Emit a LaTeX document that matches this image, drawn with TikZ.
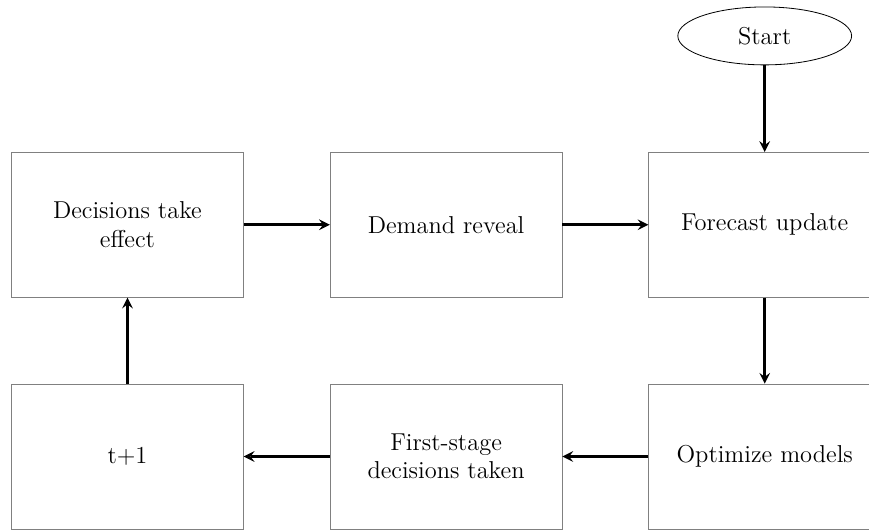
\documentclass[tikz,border=0pt]{standalone}
\usetikzlibrary{shapes.geometric}
\begin{document}
\begin{tikzpicture}[
  stepbox/.style={draw=black!50, rectangle, minimum width=4cm, minimum height=2.5cm,
                  align=center, inner sep=0pt, font=\large},
  startnode/.style={draw, ellipse, minimum width=3cm, minimum height=1cm, font=\large},
  flow/.style={->, >=stealth, line width=1.3pt}
]
\clip (0,0) rectangle (15.0,-9.16);
\node[startnode] (start) at (13.2,-0.62) {Start};
\node[stepbox] (effect) at (2.2,-3.88) {Decisions take\\effect};
\node[stepbox] (demand) at (7.7,-3.88) {Demand reveal};
\node[stepbox] (forecast) at (13.2,-3.88) {Forecast update};
\node[stepbox] (next) at (2.2,-7.88) {t+1};
\node[stepbox] (first) at (7.7,-7.88) {First-stage\\decisions taken};
\node[stepbox] (optimize) at (13.2,-7.88) {Optimize models};
\draw[flow] (start) -- (forecast);
\draw[flow] (forecast) -- (optimize);
\draw[flow] (optimize) -- (first);
\draw[flow] (first) -- (next);
\draw[flow] (next) -- (effect);
\draw[flow] (effect) -- (demand);
\draw[flow] (demand) -- (forecast);
\end{tikzpicture}
\end{document}
